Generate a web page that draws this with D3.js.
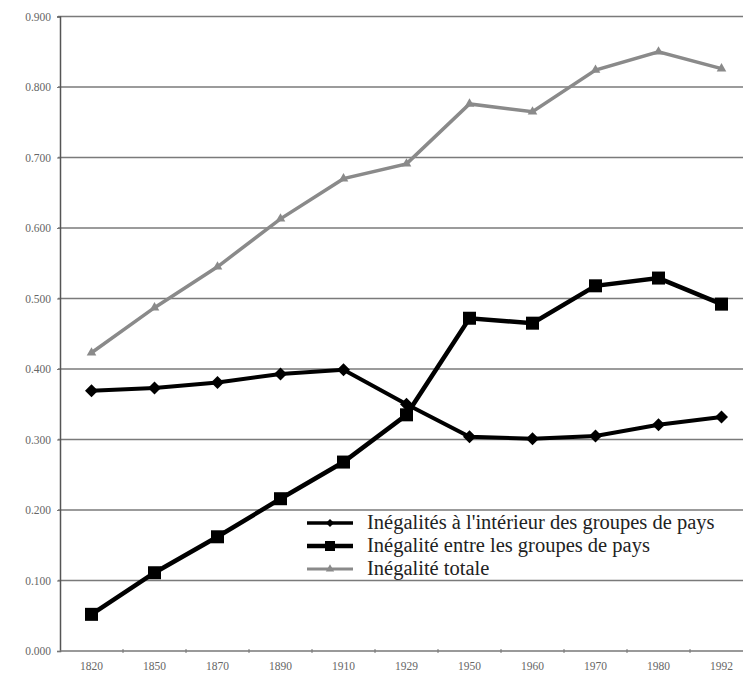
<!DOCTYPE html>
<html>
<head>
<meta charset="utf-8">
<script src="https://cdn.jsdelivr.net/npm/d3@7"></script>
<style>
  body { margin: 0; background: #fff; }
  .tick-label { font-family: "Liberation Serif", serif; font-size: 11.5px; fill: #666; }
  .legend-label { font-family: "Liberation Serif", serif; font-size: 20.5px; fill: #222; }
</style>
</head>
<body>
<svg id="chart" width="743" height="675"></svg>
<script>
const years = ["1820", "1850", "1870", "1890", "1910", "1929", "1950", "1960", "1970", "1980", "1992"];
const withinValues = [0.369, 0.373, 0.381, 0.393, 0.399, 0.350, 0.304, 0.301, 0.305, 0.321, 0.332];
const betweenValues = [0.052, 0.111, 0.162, 0.216, 0.268, 0.335, 0.472, 0.465, 0.518, 0.529, 0.492];
const totalValues = [0.423, 0.487, 0.545, 0.613, 0.670, 0.691, 0.776, 0.765, 0.824, 0.850, 0.826];
const yTicks = [0, 0.1, 0.2, 0.3, 0.4, 0.5, 0.6, 0.7, 0.8, 0.9];
const legendLabels = [
  "Inégalités à l'intérieur des groupes de pays",
  "Inégalité entre les groupes de pays",
  "Inégalité totale"
];

const svg = d3.select("#chart");
const width = +svg.attr("width");

const x = d3.scalePoint()
  .domain(years)
  .range([60, 753])
  .padding(0.5);

const y = d3.scaleLinear()
  .domain([0, 0.9])
  .range([651, 16.5]);

// grid lines
svg.append("g")
  .selectAll("line")
  .data(yTicks.slice(1))
  .enter()
  .append("line")
  .attr("x1", 58)
  .attr("x2", width)
  .attr("y1", d => y(d))
  .attr("y2", d => y(d))
  .attr("stroke", "#7a7a7a")
  .attr("stroke-width", 1.6);

// y axis
const yAxis = svg.append("g")
  .attr("transform", "translate(60,0)")
  .call(d3.axisLeft(y).tickValues(yTicks).tickFormat(d3.format(".3f")).tickSize(3).tickPadding(6));
yAxis.select(".domain").attr("stroke", "#555").attr("stroke-width", 1.5);
yAxis.selectAll(".tick line").attr("stroke", "#777");
yAxis.selectAll("text").attr("class", "tick-label").attr("font-family", null).attr("font-size", null);

// x axis with ticks between categories
const step = x.step();
const xAxis = svg.append("g")
  .attr("transform", `translate(0,${y(0)})`);
xAxis.append("line")
  .attr("x1", 60)
  .attr("x2", width)
  .attr("stroke", "#777")
  .attr("stroke-width", 1.6);
xAxis.selectAll(".xtick")
  .data(years)
  .enter()
  .append("line")
  .attr("class", "xtick")
  .attr("x1", d => x(d) + step / 2)
  .attr("x2", d => x(d) + step / 2)
  .attr("y1", -2)
  .attr("y2", 2)
  .attr("stroke", "#777");
xAxis.selectAll(".xlab")
  .data(years)
  .enter()
  .append("text")
  .attr("class", "tick-label")
  .attr("x", d => x(d))
  .attr("y", 19)
  .attr("text-anchor", "middle")
  .text(d => d);

const line = d3.line()
  .x((d, i) => x(years[i]))
  .y(d => y(d));

const diamond = s => `M0,${-s}L${s},0L0,${s}L${-s},0Z`;

// total
svg.append("path")
  .datum(totalValues)
  .attr("d", line)
  .attr("fill", "none")
  .attr("stroke", "#8a8a8a")
  .attr("stroke-width", 3.5);
svg.selectAll(".tri")
  .data(totalValues)
  .enter()
  .append("path")
  .attr("class", "tri")
  .attr("transform", (d, i) => `translate(${x(years[i])},${y(d)})`)
  .attr("d", d3.symbol(d3.symbolTriangle, 40))
  .attr("fill", "#8a8a8a");

// within
svg.append("path")
  .datum(withinValues)
  .attr("d", line)
  .attr("fill", "none")
  .attr("stroke", "#000")
  .attr("stroke-width", 4);
svg.selectAll(".dia")
  .data(withinValues)
  .enter()
  .append("path")
  .attr("class", "dia")
  .attr("transform", (d, i) => `translate(${x(years[i])},${y(d)})`)
  .attr("d", diamond(6.5))
  .attr("fill", "#000");

// between
svg.append("path")
  .datum(betweenValues)
  .attr("d", line)
  .attr("fill", "none")
  .attr("stroke", "#000")
  .attr("stroke-width", 4.5);
svg.selectAll(".sq")
  .data(betweenValues)
  .enter()
  .append("rect")
  .attr("class", "sq")
  .attr("x", (d, i) => x(years[i]) - 6.5)
  .attr("y", d => y(d) - 6.5)
  .attr("width", 13)
  .attr("height", 13)
  .attr("fill", "#000");

// legend
const legend = svg.append("g").attr("transform", "translate(307,523)");
const legendStyles = [
  { color: "#000", w: 3.5 },
  { color: "#000", w: 4.5 },
  { color: "#8a8a8a", w: 3 }
];
legendLabels.forEach((label, i) => {
  const g = legend.append("g").attr("transform", `translate(0,${i * 23})`);
  g.append("line")
    .attr("x1", 0)
    .attr("x2", 46)
    .attr("stroke", legendStyles[i].color)
    .attr("stroke-width", legendStyles[i].w);
  if (i === 0) {
    g.append("path").attr("transform", "translate(23,0)").attr("d", diamond(4)).attr("fill", "#000");
  } else if (i === 1) {
    g.append("rect").attr("x", 18).attr("y", -5).attr("width", 10).attr("height", 10).attr("fill", "#000");
  } else {
    g.append("path").attr("transform", "translate(23,0)").attr("d", d3.symbol(d3.symbolTriangle, 30)).attr("fill", "#8a8a8a");
  }
  g.append("text")
    .attr("class", "legend-label")
    .attr("x", 60)
    .attr("y", 6)
    .text(label);
});
</script>
</body>
</html>
